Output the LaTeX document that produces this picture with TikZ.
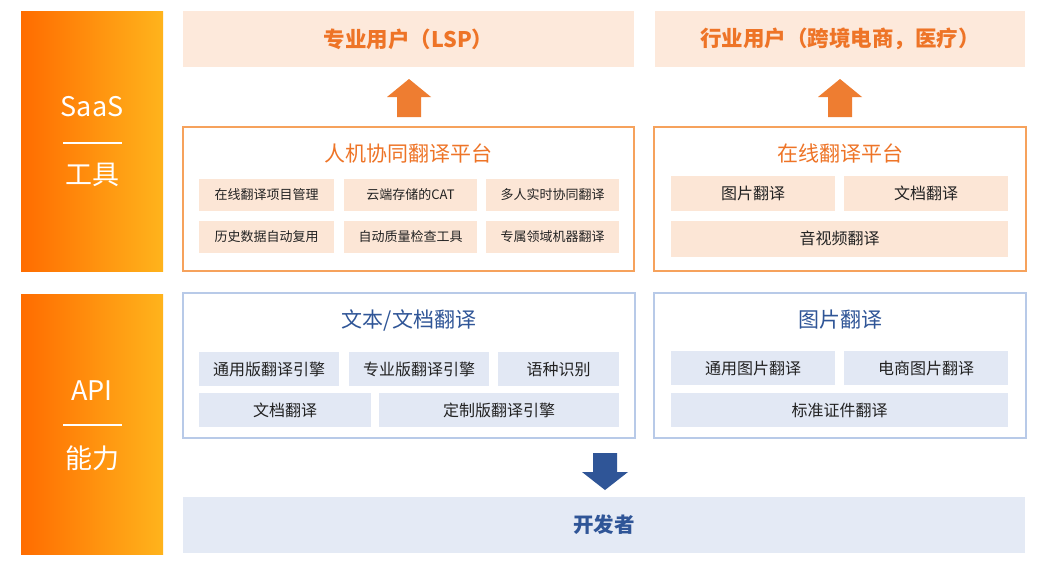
\documentclass[tikz,border=0pt]{standalone}
\usepackage{fontspec}
\setmainfont{Noto Sans CJK SC}
\definecolor{peach}{HTML}{FDE9DB}
\definecolor{subpeach}{HTML}{FCE6D6}
\definecolor{orangetxt}{HTML}{EE7427}
\definecolor{orangeline}{HTML}{F6A25C}
\definecolor{orangearr}{HTML}{EE7D31}
\definecolor{barleft}{HTML}{FF6C00}
\definecolor{barright}{HTML}{FFB41C}
\definecolor{navy}{HTML}{2F5597}
\definecolor{blueline}{HTML}{B8CAE8}
\definecolor{bluefill}{HTML}{E2E8F4}
\definecolor{devfill}{HTML}{E4EAF5}
\definecolor{subtxt}{HTML}{222222}
\begin{document}
\begin{tikzpicture}[x=1pt,y=-1pt,
  every node/.style={inner sep=0pt, outer sep=0pt},
  sidebar/.style={minimum width=142, minimum height=260, left color=barleft, right color=barright, text=white},
  userbox/.style={fill=peach, minimum height=56, text=orangetxt, font=\fontsize{21.5}{24}\selectfont\bfseries},
  platbox/.style={draw=orangeline, line width=1.2pt, fill=white, minimum width=451, minimum height=144},
  apibox/.style={draw=blueline, line width=1.2pt, fill=white, minimum height=145},
  otitle/.style={text=orangetxt, font=\fontsize{21}{24}\selectfont},
  btitle/.style={text=navy, font=\fontsize{21}{24}\selectfont},
  psub/.style={fill=subpeach, text=subtxt, font=\fontsize{13}{15}\selectfont},
  bsub/.style={fill=bluefill, text=subtxt, font=\fontsize{16}{18}\selectfont},
  osub/.style={fill=subpeach, text=subtxt, font=\fontsize{16}{18}\selectfont},
]
\useasboundingbox (0,0) rectangle (1040,568);
\fill[white] (0,0) rectangle (1040,568);

% side bars
\node[sidebar] (saas) at (92,141) {};
\node[text=white, font=\fontsize{27}{30}\selectfont] (saast) at (92,107) {SaaS};
\coordinate (saasl1) at (63,143); \coordinate (saasl2) at (122,143);
\draw[white, line width=1.2pt] (saasl1) -- (saasl2);
\node[text=white, font=\fontsize{27}{30}\selectfont] (gongju) at (92,175) {工具};

\node[sidebar] (api) at (92,424) {};
\node[text=white, font=\fontsize{27}{30}\selectfont] (apit) at (92,391) {API};
\coordinate (apil1) at (63,425); \coordinate (apil2) at (122,425);
\draw[white, line width=1.2pt] (apil1) -- (apil2);
\node[text=white, font=\fontsize{27}{30}\selectfont] (nengli) at (92,458) {能力};

% top user boxes
\node[userbox, minimum width=451] (lsp) at (408.5,39) {专业用户（LSP）};
\node[userbox, minimum width=370] (ind) at (840,39) {行业用户（跨境电商，医疗）};

% platform boxes
\node[platbox] (plat1) at (408.5,199) {};
\node[otitle] (plat1t) at (408.5,153) {人机协同翻译平台};
\node[psub, minimum width=135, minimum height=32] (p11) at (266.5,195) {在线翻译项目管理};
\node[psub, minimum width=133, minimum height=32] (p12) at (410.5,195) {云端存储的CAT};
\node[psub, minimum width=133, minimum height=32] (p13) at (552.5,195) {多人实时协同翻译};
\node[psub, minimum width=135, minimum height=32] (p21) at (266.5,237) {历史数据自动复用};
\node[psub, minimum width=133, minimum height=32] (p22) at (410.5,237) {自动质量检查工具};
\node[psub, minimum width=133, minimum height=32] (p23) at (552.5,237) {专属领域机器翻译};

\node[platbox, minimum width=372] (plat2) at (840,199) {};
\node[otitle] (plat2t) at (840,153) {在线翻译平台};
\node[osub, minimum width=164, minimum height=35] (o11) at (753,193.5) {图片翻译};
\node[osub, minimum width=164, minimum height=35] (o12) at (926,193.5) {文档翻译};
\node[osub, minimum width=337, minimum height=36] (o21) at (839.5,238.5) {音视频翻译};

% API boxes
\node[apibox, minimum width=452] (api1) at (409,365.5) {};
\node[btitle] (api1t) at (409,320) {文本/文档翻译};
\node[bsub, minimum width=140, minimum height=34] (b11) at (269,369) {通用版翻译引擎};
\node[bsub, minimum width=140, minimum height=34] (b12) at (419,369) {专业版翻译引擎};
\node[bsub, minimum width=121, minimum height=34] (b13) at (558.5,369) {语种识别};
\node[bsub, minimum width=172, minimum height=34] (b21) at (285,410) {文档翻译};
\node[bsub, minimum width=240, minimum height=34] (b22) at (499,410) {定制版翻译引擎};

\node[apibox, minimum width=372] (api2) at (840,365.5) {};
\node[btitle] (api2t) at (840,320) {图片翻译};
\node[bsub, minimum width=164, minimum height=34] (c11) at (753,368) {通用图片翻译};
\node[bsub, minimum width=164, minimum height=34] (c12) at (926,368) {电商图片翻译};
\node[bsub, minimum width=337, minimum height=34] (c21) at (839.5,410) {标准证件翻译};

% developer box
\node[fill=devfill, minimum width=842, minimum height=56, text=navy, font=\fontsize{20.5}{22}\selectfont\bfseries] (dev) at (604,525) {开发者};

% block arrows
\fill[orangearr] (409,79) -- (431,97) -- (421,97) -- (421,117) -- (397,117) -- (397,97) -- (387,97) -- cycle;
\fill[orangearr] (840,79) -- (862,97) -- (852,97) -- (852,117) -- (828,117) -- (828,97) -- (818,97) -- cycle;
\fill[navy] (605,490) -- (628,472) -- (617,472) -- (617,453) -- (593,453) -- (593,472) -- (582,472) -- cycle;
\end{tikzpicture}
\end{document}
